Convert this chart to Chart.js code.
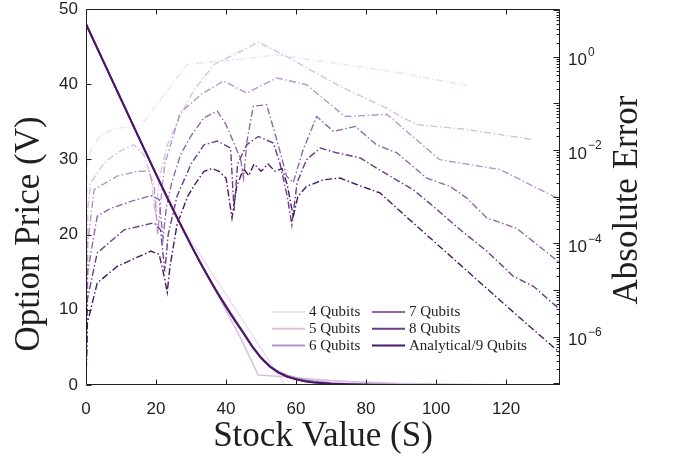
<!DOCTYPE html>
<html>
<head>
<meta charset="utf-8">
<script src="https://cdn.jsdelivr.net/npm/chart.js@4.4.1/dist/chart.umd.min.js"></script>
<style>
  html, body { margin: 0; padding: 0; background: #fff; }
  #chart { display: block; }
</style>
</head>
<body>
<canvas id="chart" width="678" height="462"></canvas>
<script>
// series names and colours, light -> dark
const labels = ['4 Qubits', '5 Qubits', '6 Qubits', '7 Qubits', '8 Qubits', 'Analytical/9 Qubits'];
const colors = ['#efe0f4', '#d9c0e2', '#b995ca', '#9367aa', '#6d3a8b', '#4b1767'];

// axis ticks
const xTicks = [0, 20, 40, 60, 80, 100, 120];
const priceTicks = [0, 10, 20, 30, 40, 50];
const errorTickValues = [1, 1e-2, 1e-4, 1e-6];
const errorTickExps = ['0', '\u22122', '\u22124', '\u22126'];

// option price (left axis)
const priceS = [0, 5, 10, 15, 20, 22.5, 25, 27.5, 30, 32.5, 35, 37.5, 40, 42.5, 45, 47.5, 50, 52.5, 55, 57.5, 60, 62.5, 65, 70, 75, 80, 90, 100, 135.4];
const price9 = [48, 43, 38, 33, 28.05, 25.6, 23.2, 20.9, 18.6, 16.4, 14.3, 12.3, 10.4, 8.6, 6.9, 5.1, 3.6, 2.45, 1.65, 1.1, 0.75, 0.5, 0.34, 0.16, 0.07, 0.03, 0.005, 0, 0];
const price8 = [48, 43, 38, 33, 28.05, 25.6, 23.2, 20.9, 18.6, 16.4, 14.3, 12.3, 10.4, 8.6, 6.9, 5.1, 3.6, 2.45, 1.66, 1.12, 0.77, 0.52, 0.36, 0.17, 0.08, 0.035, 0.006, 0, 0];
const price7 = [48, 43, 38, 33, 28.05, 25.6, 23.2, 20.9, 18.6, 16.4, 14.3, 12.3, 10.4, 8.6, 6.9, 5.1, 3.6, 2.47, 1.7, 1.16, 0.8, 0.56, 0.4, 0.2, 0.1, 0.05, 0.01, 0, 0];
const price6 = [48, 43, 38, 33, 28.05, 25.6, 23.2, 20.9, 18.6, 16.4, 14.3, 12.3, 10.6, 8.8, 7.0, 5.2, 3.7, 2.55, 1.8, 1.3, 0.95, 0.7, 0.52, 0.3, 0.17, 0.1, 0.03, 0.01, 0];
const price5S = [0, 9, 18, 27, 31, 36.6, 44, 49.2, 57, 65, 75, 90, 110, 128, 135.4];
const price5 = [48, 39, 30, 21.35, 17.7, 12.9, 6.4, 1.33, 1.1, 0.75, 0.45, 0.2, 0.05, 0, 0];
const price4S = [0, 9, 18, 28, 56.8, 135.4];
const price4 = [48, 39, 30, 20.6, 0, 0];

// absolute error (right axis, log)
const err4S = [0, 0.4, 1.5, 4, 7.8, 15.9, 28.9, 36.6, 45.1, 54.5, 72, 89.7, 108.8];
const err4 = [1e-7, 5.0e-3, 1.0e-2, 2.0e-2, 2.8e-2, 3.5e-2, 0.68, 0.79, 0.89, 1.1, 0.71, 0.45, 0.24];
const err5S = [0, 0.5, 1.3, 5.1, 9, 13.7, 16.5, 18.5, 19.8, 21, 23.2, 27, 31, 36.6, 45.1, 49.2, 56.4, 72.6, 86.9, 90.6, 94.5, 108.8, 127.8];
const err5 = [1e-7, 5.0e-4, 1.95e-3, 5.2e-3, 8.9e-3, 1.29e-2, 7.9e-3, 2.75e-3, 4.0e-4, 2.5e-3, 1.26e-2, 5.6e-2, 0.2, 0.68, 1.41, 2.04, 1.1, 0.23, 7.2e-2, 4.9e-2, 3.5e-2, 2.75e-2, 1.66e-2];
const err6S = [0, 0.5, 2.3, 8.9, 14.7, 18, 19.5, 20.5, 21.5, 22.5, 26.9, 33, 39.3, 45.9, 54.5, 63, 74, 86, 101, 118.3, 135.4];
const err6 = [1e-7, 1e-4, 1.41e-3, 2.75e-3, 3.5e-3, 3.5e-3, 1.58e-3, 1.58e-4, 1e-3, 5.0e-3, 6.2e-2, 0.158, 0.30, 0.166, 0.35, 0.25, 5.2e-2, 5.8e-2, 6.2e-3, 3.8e-3, 8.7e-4];
const err7S = [0, 0.5, 3.2, 7, 12.8, 18.5, 20.9, 22, 23, 24.5, 27, 30, 33.7, 37.5, 40, 42.5, 44.2, 45, 46, 47.8, 51.6, 54.5, 57.3, 59.2, 62, 65.9, 70.7, 76.9, 83, 88.8, 97.3, 104, 108.8, 114.5, 123, 135.4];
const err7 = [1e-7, 2.5e-5, 3.8e-4, 5.6e-4, 7.9e-4, 1.05e-3, 8.7e-4, 1.26e-4, 6.3e-4, 2.0e-3, 7.9e-3, 2.0e-2, 4.9e-2, 6.8e-2, 3.5e-2, 1.26e-2, 6.2e-3, 2.5e-3, 1.58e-2, 8.7e-2, 9.3e-2, 1.66e-2, 2.75e-3, 2.0e-3, 1e-2, 5.2e-2, 2.5e-2, 3.2e-2, 1.29e-2, 8.7e-3, 2.5e-3, 1.66e-3, 9.3e-4, 3.5e-4, 2.1e-4, 3.8e-5];
const err8S = [0, 0.4, 3.2, 10.9, 19.4, 21.3, 22.5, 23.5, 26, 30, 33.7, 37.5, 41.3, 42.3, 43.3, 45.9, 49.2, 53.5, 55.4, 57.5, 58.8, 60.3, 63, 66.9, 71.6, 78.3, 82.1, 87.8, 93.5, 99.2, 106.9, 114.5, 122.1, 127.8, 135.4];
const err8 = [1e-7, 6.3e-6, 6.2e-5, 1.95e-4, 2.75e-4, 1.95e-4, 2.5e-5, 1.58e-4, 1.02e-3, 5.0e-3, 1.29e-2, 1.55e-2, 1.1e-2, 5.0e-4, 5.0e-3, 1.29e-2, 1.95e-2, 1.41e-2, 5.2e-3, 1e-3, 2.5e-4, 2.0e-3, 6.2e-3, 1.1e-2, 8.7e-3, 6.8e-3, 4.5e-3, 2.5e-3, 1.41e-3, 6.2e-4, 1.95e-4, 6.8e-5, 1.95e-5, 1.2e-5, 3.8e-6];
const err9S = [0, 0.4, 3.2, 8.9, 18.5, 20.9, 22.3, 23.2, 24, 26, 29, 31, 33.7, 36, 38, 40, 41.7, 43, 45, 46.5, 48, 50, 52, 54, 56, 57.5, 59.2, 60.5, 63, 67.8, 72.6, 77.3, 84, 89.7, 100, 112, 124, 135.4];
const err9 = [1e-7, 1.95e-6, 1.41e-5, 3.2e-5, 6.8e-5, 5.8e-5, 2.0e-5, 8.9e-6, 3.2e-5, 2.5e-4, 1e-3, 1.78e-3, 3.5e-3, 4.0e-3, 3.5e-3, 2.5e-3, 3.5e-4, 1.58e-3, 4.0e-3, 2.8e-3, 5.0e-3, 3.5e-3, 5.0e-3, 3.5e-3, 4.0e-3, 1.78e-3, 3.7e-4, 1e-3, 1.66e-3, 2.3e-3, 2.5e-3, 1.82e-3, 1.2e-3, 4.9e-4, 1e-4, 1.58e-5, 2.5e-6, 4.5e-7];

const pts = (xs, ys) => xs.map((x, i) => ({ x: x, y: ys[i] }));

const priceSeries = [[price4S, price4], [price5S, price5], [priceS, price6], [priceS, price7], [priceS, price8], [priceS, price9]];
const errorSeries = [[err4S, err4], [err5S, err5], [err6S, err6], [err7S, err7], [err8S, err8], [err9S, err9]];

const datasets = [];
priceSeries.forEach((s, i) => {
    datasets.push({
        label: labels[i],
        data: pts(s[0], s[1]),
        yAxisID: 'y',
        borderColor: colors[i],
        borderWidth: i === 5 ? 2 : 1.6,
        order: 5 - i
    });
});
errorSeries.forEach((s, i) => {
    datasets.push({
        label: labels[i] + ' error',
        data: pts(s[0], s[1]),
        yAxisID: 'y2',
        borderColor: colors[i],
        borderWidth: 1.4,
        borderDash: [7, 2.5, 1.5, 2.5],
        order: 11 - i
    });
});

const sans = '"Liberation Sans", Arial, sans-serif';
const serif = '"Liberation Serif", "Times New Roman", serif';
const tickFont = { family: sans, size: 17, lineHeight: 1 };
const titleFont = { family: serif, size: 35, lineHeight: 1.2 };
const ink = '#1f1f1f';

// keep the plot box where the reference has it
const noPad = s => { s.paddingTop = 0; s.paddingBottom = 0; s.paddingLeft = 0; s.paddingRight = 0; };

// frame, inward ticks, log labels, legend and the two y titles
const framePlugin = {
    id: 'frame',
    afterDraw(chart) {
        const { ctx, chartArea: a, scales } = chart;
        const L = a.left + 0.5, R = a.right - 0.5, T = a.top + 0.5, B = a.bottom - 0.5;
        ctx.save();
        ctx.strokeStyle = ink;
        ctx.lineWidth = 1;
        ctx.beginPath();
        ctx.rect(L, T, R - L, B - T);
        xTicks.forEach(v => {
            const px = Math.round(scales.x.getPixelForValue(v)) + 0.5;
            ctx.moveTo(px, B); ctx.lineTo(px, B - 5);
            ctx.moveTo(px, T); ctx.lineTo(px, T + 5);
        });
        priceTicks.forEach(v => {
            const py = Math.round(scales.y.getPixelForValue(v)) + 0.5;
            ctx.moveTo(L, py); ctx.lineTo(L + 5, py);
        });
        const y2 = scales.y2;
        for (let e = -8; e <= 1; e++) {
            for (let m = 1; m <= 9; m++) {
                const v = m * Math.pow(10, e);
                if (v < y2.min || v > y2.max) continue;
                const py = Math.round(y2.getPixelForValue(v)) + 0.5;
                ctx.moveTo(R, py); ctx.lineTo(R - (m === 1 ? 6 : 3), py);
            }
        }
        ctx.stroke();

        // log tick labels with raised exponent
        ctx.fillStyle = ink;
        ctx.textAlign = 'left';
        ctx.textBaseline = 'middle';
        errorTickValues.forEach((v, i) => {
            const py = y2.getPixelForValue(v);
            ctx.font = '17px ' + sans;
            ctx.fillText('10', a.right + 8, py + 4);
            const w = ctx.measureText('10').width;
            ctx.font = '12px ' + sans;
            ctx.fillText(errorTickExps[i], a.right + 9 + w, py - 4);
        });

        // legend, two columns
        ctx.font = '15px ' + serif;
        labels.forEach((lab, i) => {
            const col = Math.floor(i / 3), row = i % 3;
            const x0 = a.left + 186 + col * 100;
            const yy = a.top + 303 + row * 16.8;
            ctx.strokeStyle = colors[i];
            ctx.lineWidth = 2;
            ctx.beginPath();
            ctx.moveTo(x0, yy); ctx.lineTo(x0 + 33, yy);
            ctx.stroke();
            ctx.fillStyle = '#222';
            ctx.fillText(lab, x0 + 37, yy);
        });

        // y titles, both reading bottom to top
        ctx.font = '35px ' + serif;
        ctx.textAlign = 'center';
        ctx.fillStyle = ink;
        ctx.save();
        ctx.translate(30, 234);
        ctx.rotate(-Math.PI / 2);
        ctx.fillText('Option Price (V)', 0, 0);
        ctx.restore();
        ctx.translate(628, 200);
        ctx.rotate(-Math.PI / 2);
        ctx.fillText('Absolute Error', 0, 0);
        ctx.restore();
    }
};

new Chart(document.getElementById('chart'), {
    type: 'line',
    data: { datasets: datasets },
    options: {
        responsive: false,
        animation: false,
        events: [],
        layout: { padding: { top: 9, left: 0, right: 0, bottom: 0 } },
        elements: { point: { radius: 0 }, line: { tension: 0, fill: false } },
        plugins: { legend: { display: false }, tooltip: { enabled: false } },
        scales: {
            x: {
                type: 'linear',
                position: 'bottom',
                min: 0,
                max: 135.4,
                afterFit: s => { s.height = 77; noPad(s); },
                afterBuildTicks: s => { s.ticks = xTicks.map(v => ({ value: v })); },
                ticks: { font: tickFont, color: ink, padding: 16, maxRotation: 0, autoSkip: false, includeBounds: false },
                grid: { display: false, drawTicks: false },
                border: { display: false },
                title: { display: true, text: 'Stock Value (S)', font: titleFont, color: ink, padding: { top: 0, bottom: 4 } }
            },
            y: {
                type: 'linear',
                position: 'left',
                min: 0,
                max: 50,
                afterFit: s => { s.width = 86; noPad(s); },
                afterBuildTicks: s => { s.ticks = priceTicks.map(v => ({ value: v })); },
                ticks: { font: tickFont, color: ink, padding: 8, autoSkip: false },
                grid: { display: false, drawTicks: false },
                border: { display: false }
            },
            y2: {
                type: 'logarithmic',
                position: 'right',
                min: 9.2e-8,
                max: 10.5,
                afterFit: s => { s.width = 118; noPad(s); },
                ticks: { display: false },
                grid: { display: false, drawTicks: false },
                border: { display: false }
            }
        }
    },
    plugins: [framePlugin]
});
</script>
</body>
</html>
